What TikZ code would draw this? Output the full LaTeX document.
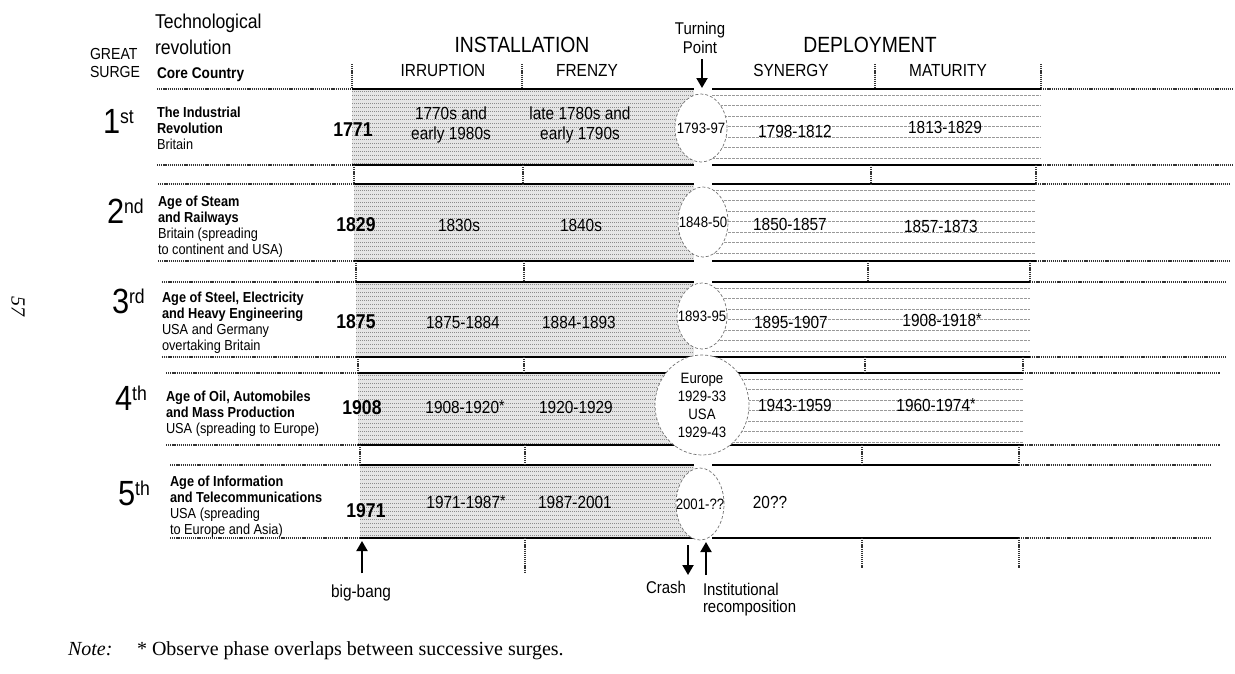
\documentclass[tikz,border=0pt]{standalone}
\usepackage{fontspec}
\setmainfont{Liberation Sans}[FakeStretch=0.88]
\newfontfamily\notefont{Liberation Serif}
\usetikzlibrary{arrows.meta, positioning, shapes.geometric}

\newcommand{\fsz}[2]{\fontsize{#1}{#2}\selectfont}
\newcommand{\ordsup}[1]{\raisebox{10pt}{\fsz{20}{20}#1}}
\newcommand{\olap}{\raisebox{2pt}{\fsz{16}{16}*}}

\begin{document}
\begin{tikzpicture}[
    x=1pt, y=-1pt,
    every node/.style={inner sep=0pt, outer sep=0pt},
    hdr/.style={font=\fsz{17.5}{20}},
    phasehdr/.style={font=\fsz{22}{24}},
    ordn/.style={anchor=base west, font=\fsz{35}{35}},
    revtxt/.style={anchor=north west, align=left, font=\fsz{14.5}{16}},
    bigyr/.style={font=\fsz{20}{22}\bfseries},
    yrs/.style={font=\fsz{17.5}{20}, align=center},
    tpoint/.style={ellipse, draw=black!55, densely dashed, line width=0.7pt, fill=white, align=center, font=\fsz{15}{18}},
    thickbar/.style={line width=2.5pt},
    dotline/.style={line width=1.4pt, black!80, dash pattern=on 1.2pt off 0.9pt},
    insthatch/.style={black!45, line width=0.9pt, dash pattern=on 1pt off 1pt},
    deplhatch/.style={black!40, line width=0.8pt, dash pattern=on 2.5pt off 1.5pt},
    arr/.style={line width=2pt, -{Triangle[length=10pt, width=11pt]}},
]

\fill[white] (0,0) rectangle (1235,673);

% Column headings
\node[anchor=north west, align=left, font=\fsz{20}{26}] (techrev) at (155,14.5) {Technological\\revolution};
\node[anchor=north west, align=left, font=\fsz{16}{18}] (surge) at (90,48.5) {GREAT\\SURGE};
\node[anchor=base west, font=\fsz{15.5}{16}\bfseries] (core) at (157,78) {Core Country};
\node[phasehdr, anchor=base] (install) at (522,52) {INSTALLATION};
\node[phasehdr, anchor=base] (deploy) at (870,52) {DEPLOYMENT};
\node[hdr, anchor=base] (irrupt) at (443,76) {IRRUPTION};
\node[hdr, anchor=base] (frenzy) at (587,76) {FRENZY};
\node[hdr, anchor=base] (synergy) at (791,76) {SYNERGY};
\node[hdr, anchor=base] (maturity) at (948,76) {MATURITY};
\node[font=\fsz{17}{19}, align=center, anchor=north] (turning) at (700,22) {Turning\\Point};

% Surge bands
\foreach \rw/\yt/\yb/\xt/\xl/\xs/\xd/\xr/\xe [remember=\yb as \pb (initially 64)] in {
    1/89/165/157/352/522/875/1041/1233,
    2/184/261/158/354/523/871/1036/1230,
    3/282/357/162/356/524/868/1030/1226,
    4/373/445/166/358/524/865/1023/1220,
    5/465/538/170/360/525/862/1019/1212}{
  \fill[black!10] (\xl,\yt) rectangle (694,\yb);
  \begin{scope}
    \clip (\xl,\yt) rectangle (694,\yb);
    \foreach \k in {2,6,...,78} \draw[insthatch] (\xl,{\yt+\k}) -- (694,{\yt+\k});
  \end{scope}
  \ifnum\rw<5
    \foreach \k in {6,16.5,...,70} \draw[deplhatch] (712,{\yt+\k}) -- (\xr,{\yt+\k});
  \fi
  \draw[thickbar] (\xl,\yt) -- (694,\yt) (712,\yt) -- (\xr,\yt)
                  (\xl,\yb) -- (694,\yb) (712,\yb) -- (\xr,\yb);
  \draw[dotline] (\xt,\yt) -- (\xl,\yt) (\xt,\yb) -- (\xl,\yb)
                 (\xr,\yt) -- (\xe,\yt) (\xr,\yb) -- (\xe,\yb);
  \draw[dotline] (\xl,\pb) -- (\xl,\yt) (\xs,\pb) -- (\xs,\yt)
                 (\xd,\pb) -- (\xd,\yt) (\xr,\pb) -- (\xr,\yt);
}
\draw[dotline] (525,538) -- (525,572) (862,538) -- (862,568) (1019,538) -- (1019,568);

% Turning points
\node[tpoint, minimum width=52pt, minimum height=68pt] (tp1) at (701,128) {\makebox[0pt]{1793-97}};
\node[tpoint, minimum width=50pt, minimum height=70pt] (tp2) at (703,222) {\makebox[0pt]{1848-50}};
\node[tpoint, minimum width=50pt, minimum height=66pt] (tp3) at (702,316) {\makebox[0pt]{1893-95}};
\node[tpoint, minimum width=94pt, minimum height=100pt] (tp4) at (702,405) {Europe\\1929-33\\USA\\1929-43};
\node[tpoint, minimum width=48pt, minimum height=72pt] (tp5) at (700,504) {\makebox[0pt]{2001-??}};

% 1st surge
\node[ordn] (ord1) at (103,133) {1\ordsup{st}};
\node[revtxt] (rev1) at (157,107) {\textbf{The Industrial}\\\textbf{Revolution}\\Britain};
\node[bigyr] (big1) at (353,130) {1771};
\node[yrs] (irr1) at (451,125) {1770s and\\early 1980s};
\node[yrs] (fre1) at (580,125) {late 1780s and\\early 1790s};
\node[yrs] (syn1) at (795,131) {1798-1812};
\node[yrs] (mat1) at (945,127) {1813-1829};

% 2nd surge
\node[ordn] (ord2) at (107,223) {2\ordsup{nd}};
\node[revtxt] (rev2) at (158,196) {\textbf{Age of Steam}\\\textbf{and Railways}\\Britain (spreading\\to continent and USA)};
\node[bigyr] (big2) at (356,225) {1829};
\node[yrs] (irr2) at (459,225) {1830s};
\node[yrs] (fre2) at (581,225) {1840s};
\node[yrs] (syn2) at (790,224) {1850-1857};
\node[yrs] (mat2) at (941,226) {1857-1873};

% 3rd surge
\node[ordn] (ord3) at (112,313) {3\ordsup{rd}};
\node[revtxt] (rev3) at (162,292) {\textbf{Age of Steel, Electricity}\\\textbf{and Heavy Engineering}\\USA and Germany\\overtaking Britain};
\node[bigyr] (big3) at (356,322) {1875};
\node[yrs] (irr3) at (463,322) {1875-1884};
\node[yrs] (fre3) at (579,322) {1884-1893};
\node[yrs] (syn3) at (791,322) {1895-1907};
\node[yrs] (mat3) at (942,320) {1908-1918\olap};

% 4th surge
\node[ordn] (ord4) at (115,410) {4\ordsup{th}};
\node[revtxt] (rev4) at (166,391) {\textbf{Age of Oil, Automobiles}\\\textbf{and Mass Production}\\USA (spreading to Europe)};
\node[bigyr] (big4) at (362,408) {1908};
\node[yrs] (irr4) at (465,407) {1908-1920\olap};
\node[yrs] (fre4) at (576,407) {1920-1929};
\node[yrs] (syn4) at (795,405) {1943-1959};
\node[yrs] (mat4) at (936,405) {1960-1974\olap};

% 5th surge
\node[ordn] (ord5) at (118,505) {5\ordsup{th}};
\node[revtxt] (rev5) at (170,476) {\textbf{Age of Information}\\\textbf{and Telecommunications}\\USA (spreading\\to Europe and Asia)};
\node[bigyr] (big5) at (366,511) {1971};
\node[yrs] (irr5) at (466,502) {1971-1987\olap};
\node[yrs] (fre5) at (575,502) {1987-2001};
\node[yrs] (syn5) at (770,502) {20??};

% Markers
\coordinate (tptip) at (702,88);
\draw[arr] (turning.south) ++(2,6) -- (tptip);
\node[hdr, anchor=base] (bigbang) at (361,597) {big-bang};
\coordinate (bbtip) at (362,541);
\draw[arr] (bigbang.north) ++(1,-11) -- (bbtip);
\node[anchor=base east, font=\fsz{17}{17}] (crash) at (686,593) {Crash};
\coordinate (crashtop) at (688,545);
\coordinate (crashend) at (688,575);
\draw[arr] (crashtop) -- (crashend);
\node[anchor=north west, align=left, font=\fsz{17}{17}] (recomp) at (703,583) {Institutional\\recomposition};
\coordinate (rctip) at (706,542);
\draw[arr] (recomp.north west) ++(3,-8) -- (rctip);

% Note and page number
\node[anchor=base west, font=\notefont\itshape\fsz{20}{20}] (note) at (68,655) {Note:};
\node[anchor=base west, font=\notefont\fsz{20}{20}] (notetxt) at (137,655) {* Observe phase overlaps between successive surges.};
\node[rotate=-90, font=\notefont\itshape\fsz{20}{20}] (page) at (18,306) {57};

\end{tikzpicture}
\end{document}
